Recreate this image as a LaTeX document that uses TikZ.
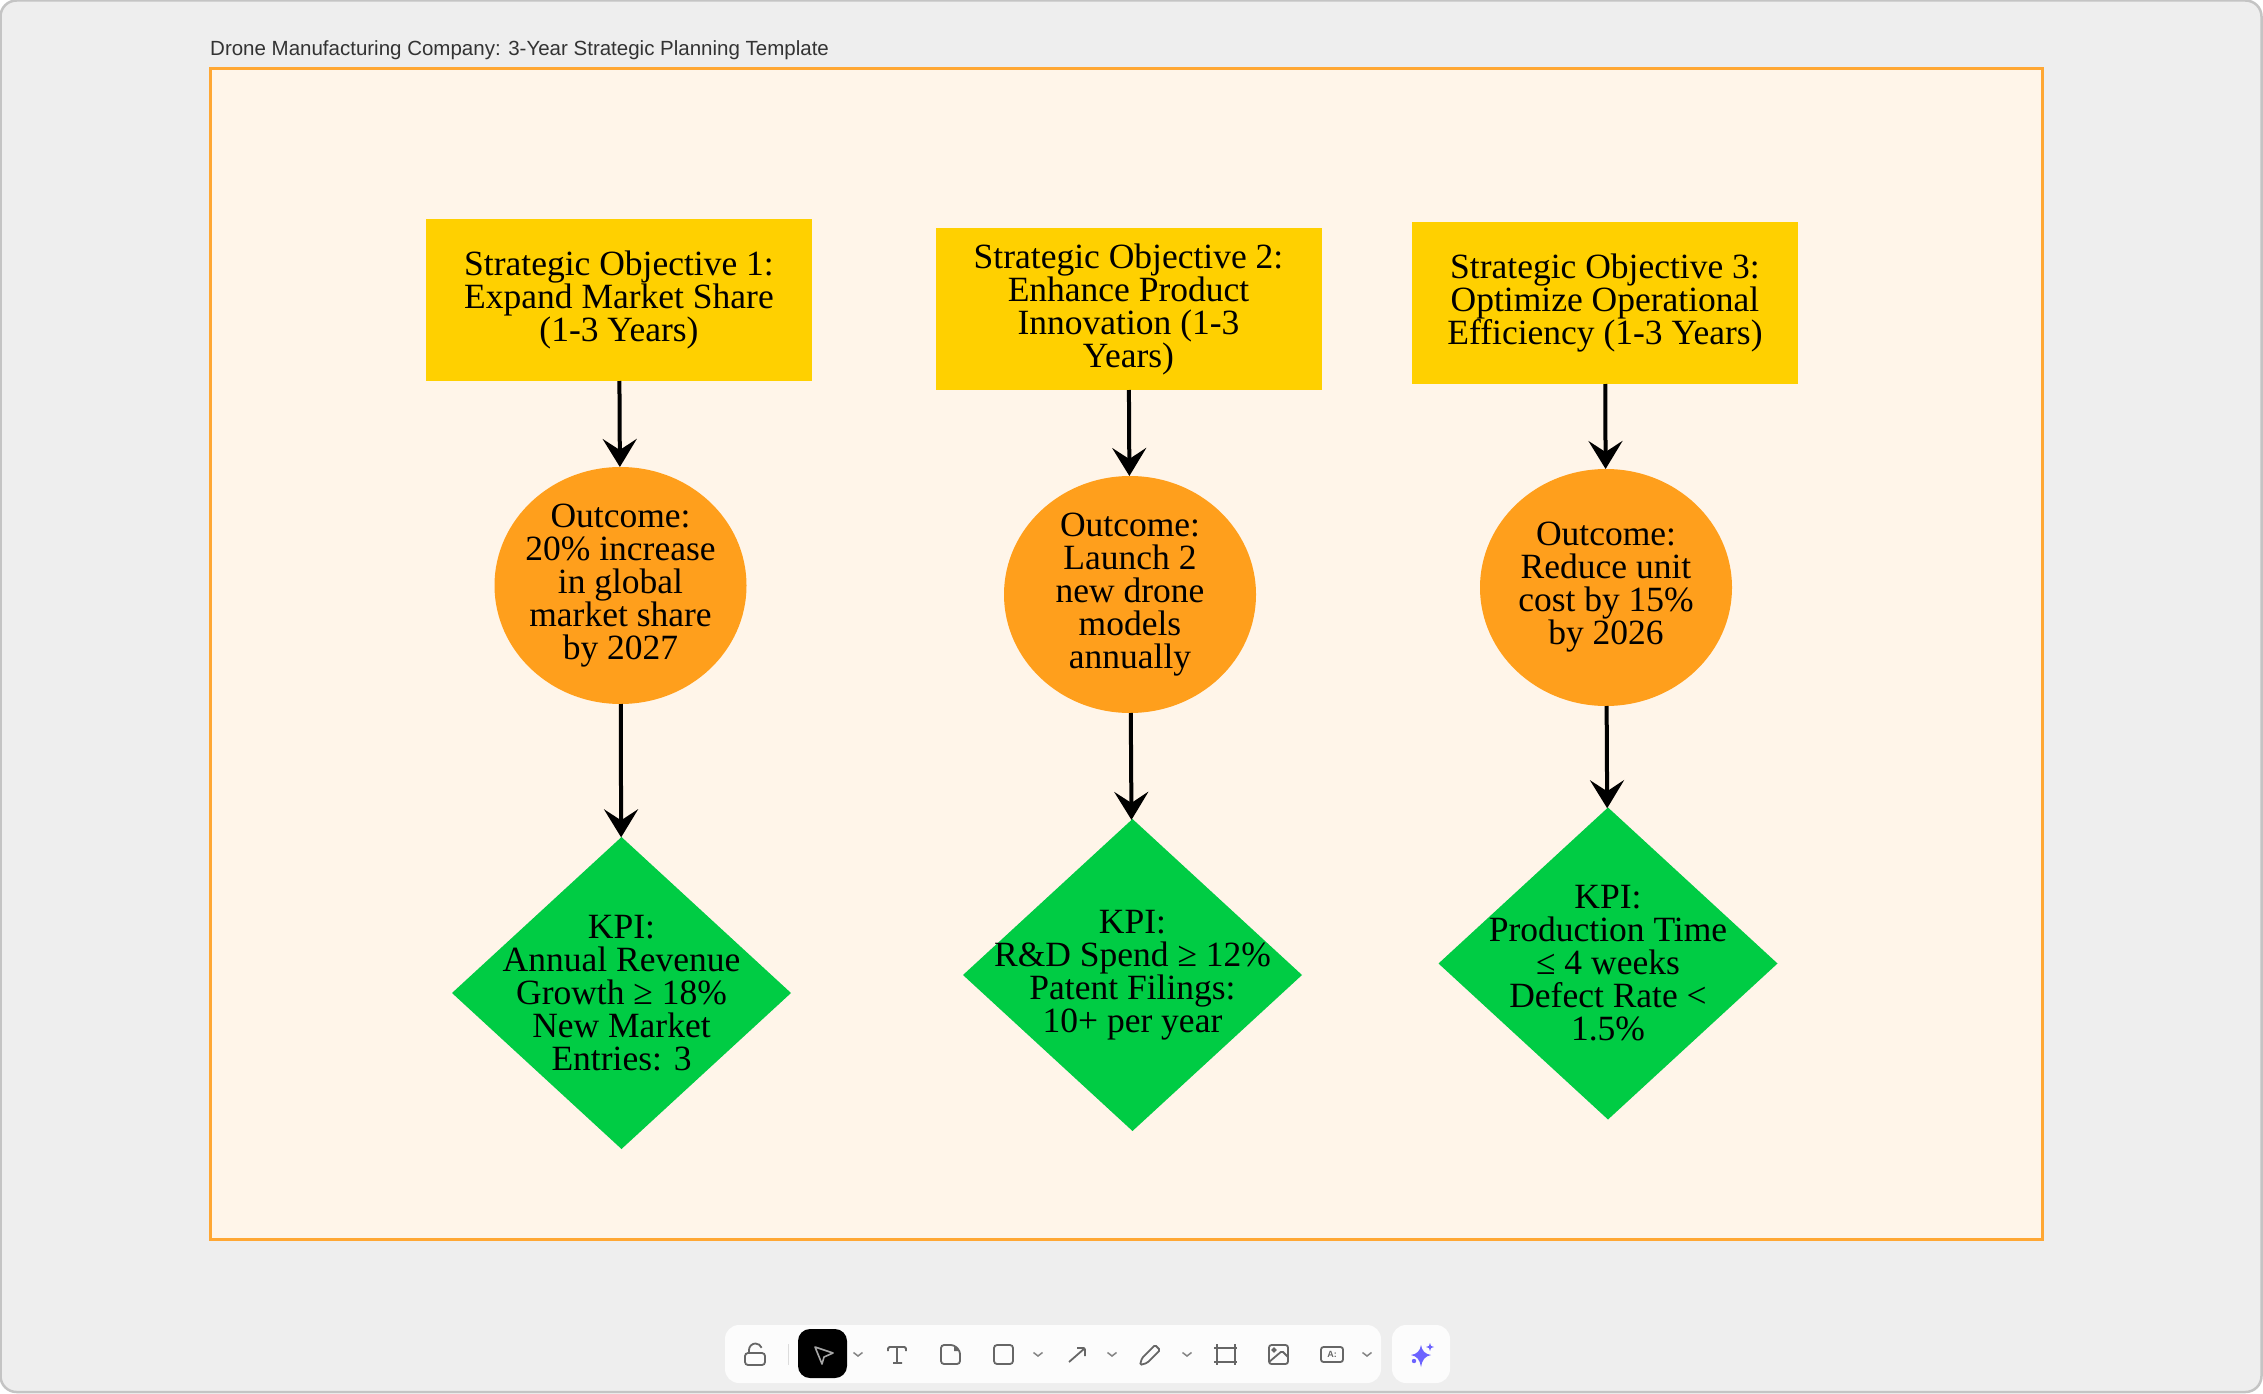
\documentclass[tikz,border=0pt]{standalone}
\usepackage{fontspec}
\setmainfont{Liberation Serif}
\newfontfamily\uifont{Liberation Sans}
\usetikzlibrary{arrows.meta, shapes.geometric}
\definecolor{windowgray}{HTML}{EEEEEE}
\definecolor{edgegray}{HTML}{C4C4C4}
\definecolor{framefill}{HTML}{FFF5E9}
\definecolor{frameline}{HTML}{FFA733}
\definecolor{objyellow}{HTML}{FFD000}
\definecolor{outorange}{HTML}{FF9F1C}
\definecolor{kpigreen}{HTML}{00CC44}
\definecolor{icongray}{HTML}{666666}
\definecolor{panelwhite}{HTML}{FCFCFC}
\definecolor{sparkblue}{HTML}{6C63FF}

\begin{document}
\begin{tikzpicture}[
      x=1pt, y=-1pt,
      objbox/.style={rectangle, fill=objyellow, minimum width=386pt, minimum height=162pt,
                     align=center, outer sep=0pt, font=\fontsize{35.5}{33}\selectfont},
      outbox/.style={ellipse, fill=outorange, minimum width=252pt, minimum height=237pt,
                     inner sep=-70pt, align=center, outer sep=0pt, font=\fontsize{35.5}{33}\selectfont},
      kpibox/.style={diamond, fill=kpigreen, minimum width=339pt, minimum height=312pt,
                     inner sep=-70pt, align=center, outer sep=0pt, font=\fontsize{35.5}{33}\selectfont},
      arr/.style={-{Stealth[length=28pt, width=34pt, inset=11pt]}, line width=4pt},
      panel/.style={fill=panelwhite, rounded corners=14pt},
      icon/.style={draw=icongray, line width=1.8pt, rounded corners=1.5pt},
      chev/.style={draw=icongray!80, line width=1.5pt}
    ]
    \useasboundingbox (0,0) rectangle (2263,1394);
    \fill[windowgray, draw=edgegray, line width=2.5pt, rounded corners=16pt] (0.5,0.5) rectangle (2261.5,1392);

    \node[anchor=base west, inner sep=0pt, text=black!80, font=\uifont\fontsize{20.5}{24}\selectfont] (title) at (210,55.5)
      {Drone Manufacturing Company: 3-Year Strategic Planning Template};
    \draw[frameline, fill=framefill, line width=3pt] (210,68.5) rectangle (2042,1239);

    % column 1
    \node[objbox] (obja) at (619,300) {Strategic Objective 1:\\Expand Market Share\\(1-3 Years)};
    \node[outbox] (outa) at (620.5,585.5) {Outcome:\\20\% increase\\in global\\market share\\by 2027};
    \node[kpibox] (kpia) at (621.5,993) {KPI:\\Annual Revenue\\Growth ≥ 18\%\\New Market\\Entries: 3};
    % column 2
    \node[objbox] (objb) at (1128.5,309) {Strategic Objective 2:\\Enhance Product\\Innovation (1-3\\Years)};
    \node[outbox] (outb) at (1130,594.5) {Outcome:\\Launch 2\\new drone\\models\\annually};
    \node[kpibox] (kpib) at (1132.5,975) {KPI:\\R\&D Spend ≥ 12\%\\Patent Filings:\\10+ per year};
    % column 3
    \node[objbox] (objc) at (1605,303) {Strategic Objective 3:\\Optimize Operational\\Efficiency (1-3 Years)};
    \node[outbox] (outc) at (1606,587.5) {Outcome:\\Reduce unit\\cost by 15\%\\by 2026};
    \node[kpibox] (kpic) at (1608,963.5) {KPI:\\Production Time\\≤ 4 weeks\\Defect Rate <\\1.5\%};

    \draw[arr] (obja) -- (outa);
    \draw[arr] (outa) -- (kpia);
    \draw[arr] (objb) -- (outb);
    \draw[arr] (outb) -- (kpib);
    \draw[arr] (objc) -- (outc);
    \draw[arr] (outc) -- (kpic);

    % toolbar
    \fill[panel] (725,1325) rectangle (1381,1383);
    \fill[panel] (1392,1325) rectangle (1450,1383);
    \fill[black, rounded corners=12pt] (798,1329) rectangle (847,1378);
    \draw[edgegray!60, line width=1pt] (788,1344) -- (788,1365);
    % lock
    \draw[icon, rounded corners=3pt] (745,1353) rectangle (765,1365);
    \draw[draw=icongray, line width=1.8pt] (749,1353) -- (749,1350) arc[start angle=180, end angle=340, radius=6.5];
    % pointer
    \draw[draw=white!65!black, line width=1.6pt, line join=round] (815,1347) -- (833,1353) -- (824,1357) -- (822,1364) -- cycle;
    % text tool
    \draw[icon] (888,1351) -- (888,1347) -- (906,1347) -- (906,1351) (897,1347) -- (897,1363) (893,1363) -- (902,1363);
    % note
    \draw[icon, rounded corners=3pt] (954,1345) -- (941,1345) -- (941,1364) -- (960,1364) -- (960,1351) -- cycle;
    \fill[icongray] (954,1345) -- (960,1351) -- (954,1351) -- cycle;
    % rectangle
    \draw[icon, rounded corners=3pt] (994,1345) rectangle (1013,1364);
    % arrow
    \draw[icon] (1069,1362) -- (1085,1348) (1077,1348) -- (1085,1348) -- (1085,1356);
    % pencil
    \draw[icon] (1140,1365) -- (1142,1358) -- (1155,1345) -- (1160,1350) -- (1147,1363) -- cycle;
    % frame
    \draw[icon] (1217,1344) -- (1217,1365) (1235,1344) -- (1235,1365) (1214,1348) -- (1237,1348) (1214,1362) -- (1237,1362);
    % image
    \draw[icon, rounded corners=2.5pt] (1269,1345) rectangle (1288,1364);
    \draw[icon] (1269,1362) -- (1282,1351) -- (1288,1357);
    \draw[icon] (1274,1350) circle[radius=1.6];
    % card
    \draw[icon, rounded corners=2.5pt] (1321,1347) rectangle (1343,1362);
    \node[inner sep=0pt, font=\uifont\bfseries\fontsize{9}{9}\selectfont, text=icongray] (cardtxt) at (1332,1354.5) {A:};
    % chevrons
    \foreach \cx in {858,1038,1112,1187,1367}
      \draw[chev] (\cx-4.5,1352.5) -- (\cx,1356) -- (\cx+4.5,1352.5);
    % sparkle
    \fill[sparkblue] (1421,1345) .. controls (1422,1351) and (1425,1354) .. (1431,1355)
      .. controls (1425,1356) and (1422,1360) .. (1421,1367)
      .. controls (1420,1360) and (1417,1356) .. (1411,1355)
      .. controls (1417,1354) and (1420,1351) .. (1421,1345) -- cycle;
    \fill[sparkblue] (1430,1343) .. controls (1430.5,1346) and (1431,1346.5) .. (1434,1347)
      .. controls (1431,1347.5) and (1430.5,1348) .. (1430,1351)
      .. controls (1429.5,1348) and (1429,1347.5) .. (1426,1347)
      .. controls (1429,1346.5) and (1429.5,1346) .. (1430,1343) -- cycle;
    \fill[sparkblue] (1414,1361) circle[radius=2.2];
  \end{tikzpicture}
\end{document}
